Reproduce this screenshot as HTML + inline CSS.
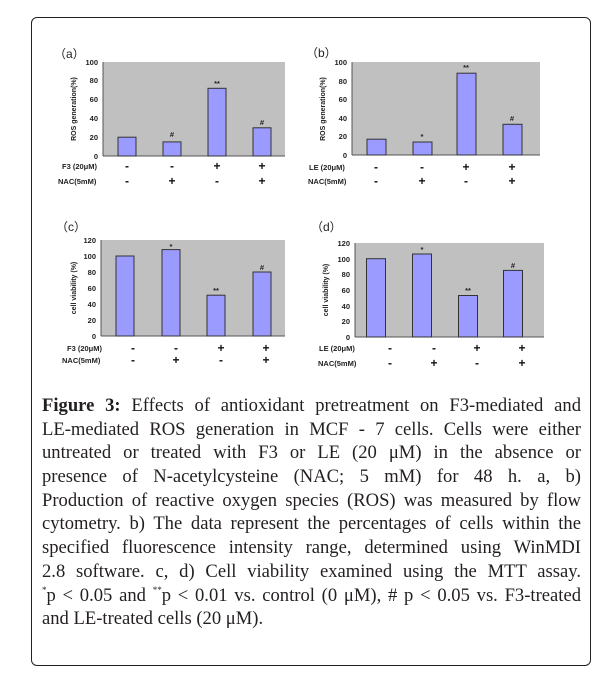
<!DOCTYPE html>
<html><head><meta charset="utf-8"><style>
body{margin:0;background:#fff;width:612px;height:683px;position:relative;overflow:hidden}
.box{position:absolute;left:31px;top:17px;width:558px;height:647px;border:1.5px solid #222;border-radius:6px}
svg{position:absolute;left:0;top:0}
.cap{position:absolute;left:42px;top:394px;width:539px;font-family:"Liberation Serif",serif;font-size:18.6px;color:#231f20}
.cap div{height:23.7px;line-height:23.7px;text-align:justify;text-align-last:justify;white-space:nowrap}
.cap div.l{text-align-last:left}
.cap sup{font-size:9px;line-height:0;vertical-align:0;position:relative;top:-8px}
</style></head><body>
<div class="box"></div>
<svg width="612" height="683" font-family="Liberation Sans, sans-serif" font-weight="bold">
<g font-size="7.5" fill="#222">
<!-- a -->
<rect x="103" y="62" width="182" height="94" fill="#c0c0c0"/>
<line x1="103" y1="62" x2="103" y2="156" stroke="#555"/><line x1="103" y1="156" x2="285" y2="156" stroke="#555"/>
<g text-anchor="end"><text x="98" y="159">0</text><text x="98" y="140">20</text><text x="98" y="121">40</text><text x="98" y="102">60</text><text x="98" y="83">80</text><text x="98" y="65">100</text></g>
<text transform="translate(76,109) rotate(-90)" text-anchor="middle" font-size="7">ROS generation(%)</text>
<g fill="#9a9aff" stroke="#333" stroke-width="1"><rect x="118" y="137.2" width="18" height="18.8"/><rect x="163" y="141.9" width="18" height="14.1"/><rect x="208" y="88.3" width="18" height="67.7"/><rect x="253" y="127.8" width="18" height="28.2"/></g>
<g text-anchor="middle"><text x="172" y="137">#</text><text x="217" y="86">**</text><text x="262" y="125">#</text></g>
<text x="54" y="58" font-size="12" font-weight="normal">（a）</text>
<text x="62" y="169">F3 (20μM)</text><text x="58" y="184">NAC(5mM)</text>
<!-- b -->
<rect x="352" y="62" width="188" height="93" fill="#c0c0c0"/>
<line x1="352" y1="62" x2="352" y2="155" stroke="#555"/><line x1="352" y1="155" x2="540" y2="155" stroke="#555"/>
<g text-anchor="end"><text x="347" y="158">0</text><text x="347" y="139">20</text><text x="347" y="121">40</text><text x="347" y="102">60</text><text x="347" y="84">80</text><text x="347" y="65">100</text></g>
<text transform="translate(325,109) rotate(-90)" text-anchor="middle" font-size="7">ROS generation(%)</text>
<g fill="#9a9aff" stroke="#333"><rect x="367" y="139.2" width="19" height="15.8"/><rect x="413" y="142" width="19" height="13"/><rect x="457" y="73.2" width="19" height="81.8"/><rect x="503" y="124.3" width="19" height="30.7"/></g>
<g text-anchor="middle"><text x="422" y="139">*</text><text x="466" y="70">**</text><text x="512" y="121">#</text></g>
<text x="306" y="57" font-size="12" font-weight="normal">（b）</text>
<text x="309" y="170">LE (20μM)</text><text x="308" y="184">NAC(5mM)</text>
<!-- c -->
<rect x="101" y="240" width="184" height="96" fill="#c0c0c0"/>
<line x1="101" y1="240" x2="101" y2="336" stroke="#555"/><line x1="101" y1="336" x2="285" y2="336" stroke="#555"/>
<g text-anchor="end"><text x="96" y="339">0</text><text x="96" y="323">20</text><text x="96" y="307">40</text><text x="96" y="291">60</text><text x="96" y="275">80</text><text x="96" y="259">100</text><text x="96" y="243">120</text></g>
<text transform="translate(76,288) rotate(-90)" text-anchor="middle" font-size="7">cell viability (%)</text>
<g fill="#9a9aff" stroke="#333"><rect x="116" y="256" width="18" height="80"/><rect x="162" y="249.6" width="18" height="86.4"/><rect x="207" y="295.2" width="18" height="40.8"/><rect x="253" y="272" width="18" height="64"/></g>
<g text-anchor="middle"><text x="171" y="249">*</text><text x="216" y="293">**</text><text x="262" y="270">#</text></g>
<text x="56" y="231" font-size="12" font-weight="normal">（c）</text>
<text x="67" y="351">F3 (20μM)</text><text x="62" y="363">NAC(5mM)</text>
<!-- d -->
<rect x="355" y="243" width="189" height="94" fill="#c0c0c0"/>
<line x1="355" y1="243" x2="355" y2="337" stroke="#555"/><line x1="355" y1="337" x2="544" y2="337" stroke="#555"/>
<g text-anchor="end"><text x="350" y="340">0</text><text x="350" y="324">20</text><text x="350" y="309">40</text><text x="350" y="293">60</text><text x="350" y="277">80</text><text x="350" y="262">100</text><text x="350" y="246">120</text></g>
<text transform="translate(328,290) rotate(-90)" text-anchor="middle" font-size="7">cell viability (%)</text>
<g fill="#9a9aff" stroke="#333"><rect x="366.5" y="258.7" width="19" height="78.3"/><rect x="412.5" y="254" width="19" height="83"/><rect x="458.5" y="295.5" width="19" height="41.5"/><rect x="503.5" y="270.4" width="19" height="66.6"/></g>
<g text-anchor="middle"><text x="422" y="252">*</text><text x="468" y="293">**</text><text x="513" y="268">#</text></g>
<text x="311" y="231" font-size="12" font-weight="normal">（d）</text>
<text x="319" y="351">LE (20μM)</text><text x="318" y="366">NAC(5mM)</text>
</g>
<g font-size="12" text-anchor="middle" fill="#111">
<text x="127" y="170">-</text><text x="172" y="170">-</text><text x="217" y="170">+</text><text x="262" y="170">+</text>
<text x="127" y="185">-</text><text x="172" y="185">+</text><text x="217" y="185">-</text><text x="262" y="185">+</text>
<text x="376" y="171">-</text><text x="422" y="171">-</text><text x="466" y="171">+</text><text x="512" y="171">+</text>
<text x="376" y="185">-</text><text x="422" y="185">+</text><text x="466" y="185">-</text><text x="512" y="185">+</text>
<text x="133" y="352">-</text><text x="176" y="352">-</text><text x="221" y="352">+</text><text x="266" y="352">+</text>
<text x="133" y="364">-</text><text x="176" y="364">+</text><text x="221" y="364">-</text><text x="266" y="364">+</text>
<text x="390" y="352">-</text><text x="434" y="352">-</text><text x="477" y="352">+</text><text x="522" y="352">+</text>
<text x="390" y="367">-</text><text x="434" y="367">+</text><text x="477" y="367">-</text><text x="522" y="367">+</text>
</g>
</svg>
<div class="cap">
<div><b>Figure 3:</b> Effects of antioxidant pretreatment on F3-mediated and</div>
<div>LE-mediated ROS generation in MCF - 7 cells. Cells were either</div>
<div>untreated or treated with F3 or LE (20 μM) in the absence or</div>
<div>presence of N-acetylcysteine (NAC; 5 mM) for 48 h. a, b)</div>
<div>Production of reactive oxygen species (ROS) was measured by flow</div>
<div>cytometry. b) The data represent the percentages of cells within the</div>
<div>specified fluorescence intensity range, determined using WinMDI</div>
<div>2.8 software. c, d) Cell viability examined using the MTT assay.</div>
<div><sup>*</sup>p &lt; 0.05 and <sup>**</sup>p &lt; 0.01 vs. control (0 μM), # p &lt; 0.05 vs. F3-treated</div>
<div class="l">and LE-treated cells (20 μM).</div>
</div>
</body></html>
